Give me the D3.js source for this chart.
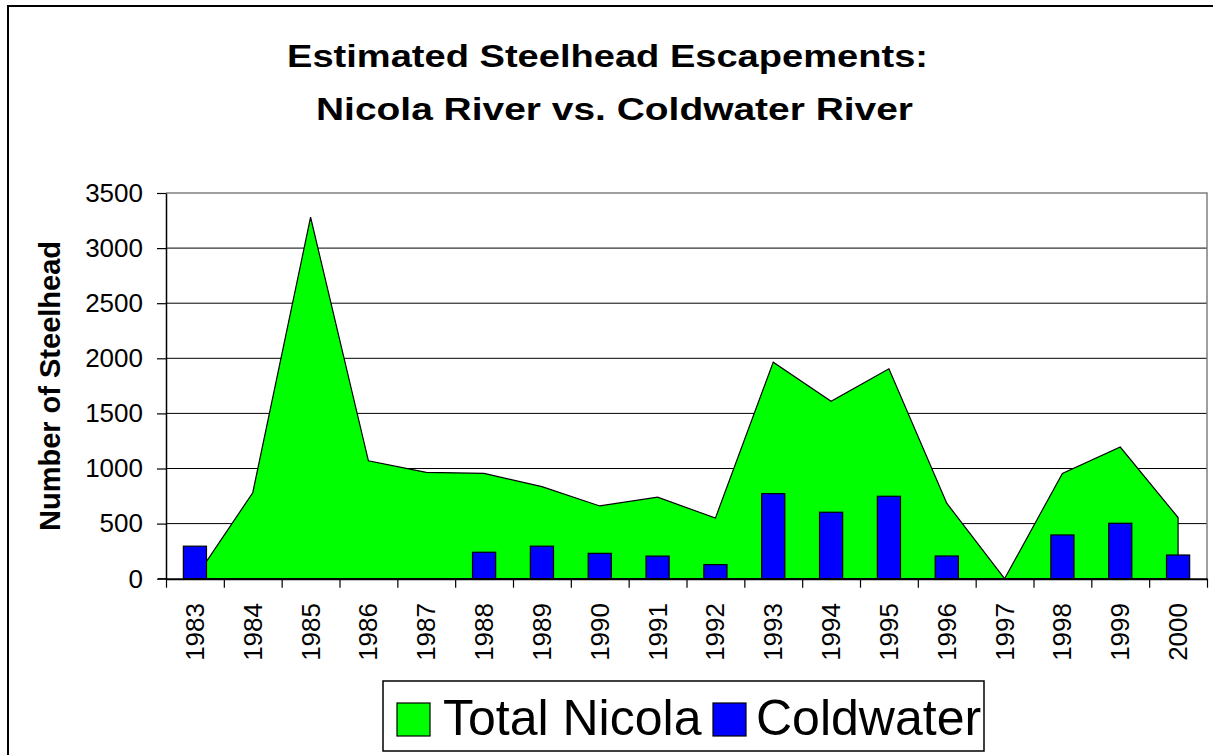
<!DOCTYPE html>
<html>
<head>
<meta charset="utf-8">
<script src="https://cdn.jsdelivr.net/npm/d3@7"></script>
<style>
  body { margin: 0; background: #fff; }
  svg { display: block; font-family: "Liberation Sans", Arial, sans-serif; }
</style>
</head>
<body>
<svg width="1213" height="755"></svg>
<script>
// data
const YEARS = ['1983','1984','1985','1986','1987','1988','1989','1990','1991',
               '1992','1993','1994','1995','1996','1997','1998','1999','2000'];
const TOTAL_NICOLA = [0, 780, 3280, 1070, 965, 955, 835, 660, 740,
                      550, 1965, 1610, 1905, 685, 0, 955, 1195, 555];
const COLDWATER = [295, null, null, null, null, 240, 295, 230, 205,
                   128, 772, 603, 748, 206, null, 397, 503, 215];
const Y_TICKS = [0, 500, 1000, 1500, 2000, 2500, 3000, 3500];

const PLOT = { left: 166, right: 1207, top: 193, bottom: 578.7 };

const svg = d3.select('svg');

// outer chart border (runs off the right/bottom of the picture)
svg.append('rect')
   .attr('x', 8).attr('y', 6)
   .attr('width', 1230).attr('height', 780)
   .attr('fill', 'none').attr('stroke', '#000').attr('stroke-width', 2);

const x = d3.scaleBand().domain(YEARS).range([PLOT.left, PLOT.right]).paddingInner(0).paddingOuter(0);
const xEdge = d3.scaleLinear().domain([0, YEARS.length]).range([PLOT.left, PLOT.right]);
const y = d3.scaleLinear().domain([0, 3500]).range([PLOT.bottom, PLOT.top]);

// gridlines
svg.append('g')
   .selectAll('line')
   .data(Y_TICKS.filter(d => d > 0 && d < 3500))
   .enter()
   .append('line')
   .attr('x1', PLOT.left).attr('x2', PLOT.right)
   .attr('y1', d => y(d)).attr('y2', d => y(d))
   .attr('stroke', '#000').attr('stroke-width', 1);

// plot border top + right (grey)
svg.append('path')
   .attr('d', `M${PLOT.left},${y(3500)}H${PLOT.right}V${PLOT.bottom}`)
   .attr('fill', 'none').attr('stroke', '#808080').attr('stroke-width', 1.5);

// area series
const rows = YEARS.map((yr, i) => ({ year: yr, nicola: TOTAL_NICOLA[i], cold: COLDWATER[i] }));
const area = d3.area()
    .x(d => x(d.year) + x.bandwidth() / 2)
    .y0(y(0))
    .y1(d => y(d.nicola));
svg.append('path')
   .datum(rows)
   .attr('d', area)
   .attr('fill', '#00ff00')
   .attr('stroke', '#000')
   .attr('stroke-width', 1.2)
   .attr('stroke-linejoin', 'miter');

// bars
const barW = x.bandwidth() * 0.4;
svg.append('g')
   .selectAll('.bar')
   .data(rows.filter(d => d.cold != null))
   .enter()
   .append('rect')
   .classed('bar', true)
   .attr('x', d => x(d.year) + (x.bandwidth() - barW) / 2)
   .attr('y', d => y(d.cold))
   .attr('width', barW)
   .attr('height', d => y(0) - y(d.cold))
   .attr('fill', '#0000ff')
   .attr('stroke', '#000')
   .attr('stroke-width', 1.2);

// y axis
const yAxis = svg.append('g')
   .attr('transform', `translate(${PLOT.left},0)`)
   .call(d3.axisLeft(y).tickValues(Y_TICKS).tickFormat(d3.format('d'))
           .tickSize(9).tickSizeOuter(0).tickPadding(14));
yAxis.select('.domain').attr('stroke', '#000').attr('stroke-width', 1.5);
yAxis.selectAll('.tick line').attr('stroke', '#000').attr('stroke-width', 1.2);
yAxis.selectAll('.tick text')
   .attr('font-size', 26).attr('fill', '#000')
   .attr('font-family', '"Liberation Sans", Arial, sans-serif');

// x axis (ticks between categories)
const xAxis = svg.append('g')
   .attr('transform', `translate(0,${PLOT.bottom})`)
   .call(d3.axisBottom(xEdge).tickValues(d3.range(0, YEARS.length + 1)).tickSize(9).tickSizeOuter(0).tickFormat(''));
xAxis.select('.domain').attr('stroke', '#000').attr('stroke-width', 2);
xAxis.selectAll('.tick line').attr('stroke', '#000').attr('stroke-width', 1.2);

svg.append('line')
   .attr('x1', 158).attr('x2', PLOT.left)
   .attr('y1', PLOT.bottom).attr('y2', PLOT.bottom)
   .attr('stroke', '#000').attr('stroke-width', 1.2);

svg.append('g')
   .selectAll('text')
   .data(YEARS)
   .enter()
   .append('text')
   .text(d => d)
   .attr('transform', d => `translate(${x(d) + x.bandwidth() / 2 + 9},603) rotate(-90)`)
   .attr('text-anchor', 'end')
   .attr('font-size', 26)
   .attr('fill', '#000');

// y axis title
svg.append('text')
   .text('Number of Steelhead')
   .attr('transform', 'translate(60,386) rotate(-90)')
   .attr('text-anchor', 'middle')
   .attr('font-size', 29)
   .attr('font-weight', 'bold');

// chart title
svg.append('text')
   .text('Estimated Steelhead Escapements:')
   .attr('x', 287).attr('y', 67)
   .attr('font-size', 32).attr('font-weight', 'bold')
   .attr('textLength', 641).attr('lengthAdjust', 'spacingAndGlyphs');
svg.append('text')
   .text('Nicola River vs. Coldwater River')
   .attr('x', 316).attr('y', 120)
   .attr('font-size', 32).attr('font-weight', 'bold')
   .attr('textLength', 597).attr('lengthAdjust', 'spacingAndGlyphs');

// legend
const legend = svg.append('g');
legend.append('rect')
   .attr('x', 383).attr('y', 681).attr('width', 601).attr('height', 70)
   .attr('fill', '#fff').attr('stroke', '#000').attr('stroke-width', 1.5);
const LEGEND_ITEMS = [
  { label: 'Total Nicola', color: '#00ff00', sx: 397, tx: 443 },
  { label: 'Coldwater', color: '#0000ff', sx: 713, tx: 756 }
];
legend.selectAll('.lsq')
   .data(LEGEND_ITEMS)
   .enter()
   .append('rect')
   .classed('lsq', true)
   .attr('x', d => d.sx).attr('y', 703)
   .attr('width', 33).attr('height', 33)
   .attr('fill', d => d.color).attr('stroke', '#000').attr('stroke-width', 1.2);
legend.selectAll('.ltxt')
   .data(LEGEND_ITEMS)
   .enter()
   .append('text')
   .classed('ltxt', true)
   .text(d => d.label)
   .attr('x', d => d.tx).attr('y', 735)
   .attr('font-size', 50)
   .attr('fill', '#000');
</script>
</body>
</html>
